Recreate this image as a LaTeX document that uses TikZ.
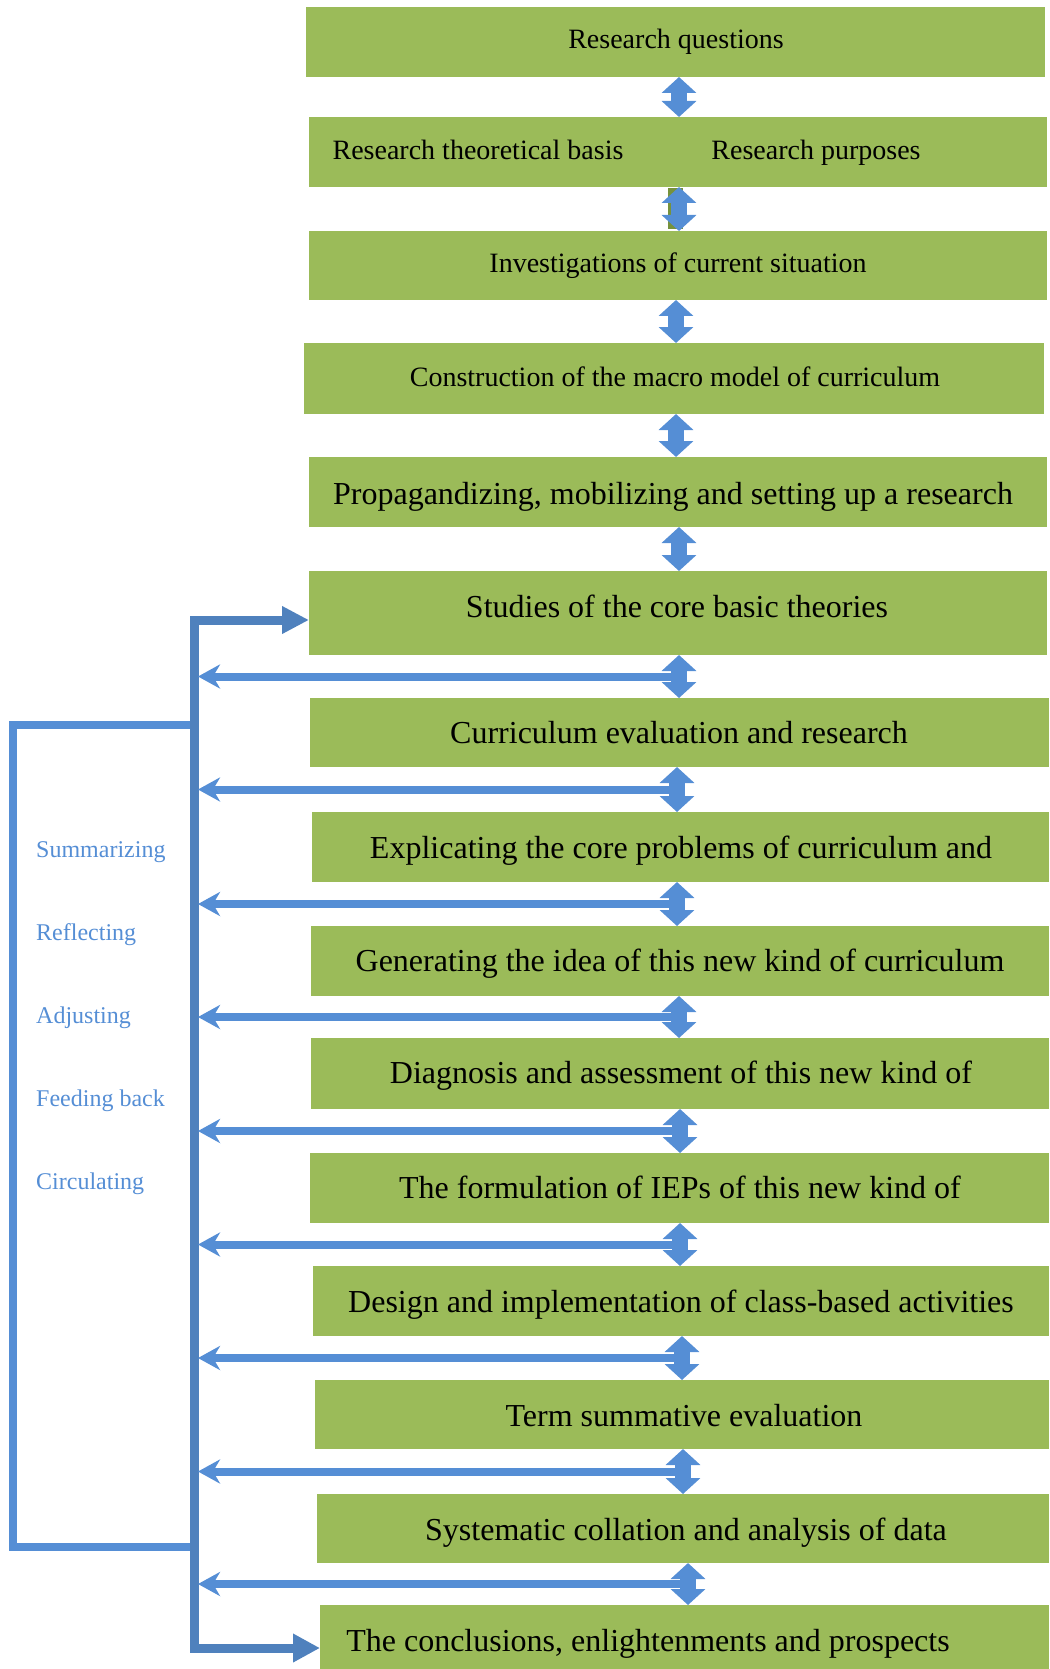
\documentclass[tikz,border=0pt]{standalone}
\usepackage{fontspec}
\setmainfont{Liberation Serif}
\usetikzlibrary{arrows.meta}
\definecolor{boxgreen}{HTML}{9BBB59}
\definecolor{darkgreen}{HTML}{76923C}
\definecolor{arrowblue}{HTML}{558ED5}
\definecolor{lineblue}{HTML}{4F81BD}
\tikzset{
  box/.style={fill=boxgreen, draw=none, inner sep=0pt, outer sep=0pt, anchor=north west},
  smalltxt/.style={inner sep=0pt, yshift=-7.5pt, font=\fontsize{28}{32}\selectfont, text height=0.68em, text depth=0.22em},
  bigtxt/.style={inner sep=0pt, yshift=-9pt, font=\fontsize{32}{36}\selectfont, text height=0.68em, text depth=0.22em},
  sidetxt/.style={inner sep=0pt, yshift=-6.5pt, anchor=west, text=arrowblue, font=\fontsize{24}{28}\selectfont, text height=0.68em, text depth=0.22em},
  dblarrow/.style={draw=arrowblue, line width=16pt, {Triangle[length=16pt,width=34pt]}-{Triangle[length=16pt,width=34pt]}},
  feedback/.style={draw=arrowblue, line width=8pt, -{Stealth[length=22pt,width=24pt,inset=7pt]}},
  mainline/.style={draw=lineblue, line width=9pt, line join=miter},
  bracketline/.style={draw=arrowblue, line width=8pt, line join=miter}
}
\begin{document}
\begin{tikzpicture}[x=1pt,y=-1pt]
\useasboundingbox (0,0) rectangle (1049,1669);
% boxes
\node[box, minimum width=739pt, minimum height=70pt] (b1) at (306,7) {};
\node[box, minimum width=738pt, minimum height=70pt] (b2) at (309,117) {};
\fill[darkgreen] (668,188) rectangle (683,229);
\node[box, minimum width=738pt, minimum height=69pt] (b3) at (309,231) {};
\node[box, minimum width=740pt, minimum height=71pt] (b4) at (304,343) {};
\node[box, minimum width=738pt, minimum height=70pt] (b5) at (309,457) {};
\node[box, minimum width=738pt, minimum height=84pt] (b6) at (309,571) {};
\node[box, minimum width=739pt, minimum height=69pt] (b7) at (310,698) {};
\node[box, minimum width=737pt, minimum height=70pt] (b8) at (312,812) {};
\node[box, minimum width=738pt, minimum height=70pt] (b9) at (311,926) {};
\node[box, minimum width=738pt, minimum height=71pt] (b10) at (311,1038) {};
\node[box, minimum width=739pt, minimum height=70pt] (b11) at (310,1153) {};
\node[box, minimum width=736pt, minimum height=70pt] (b12) at (313,1266) {};
\node[box, minimum width=734pt, minimum height=69pt] (b13) at (315,1380) {};
\node[box, minimum width=732pt, minimum height=69pt] (b14) at (317,1494) {};
\node[box, minimum width=729pt, minimum height=64pt] (b15) at (320,1605) {};
% texts
\node[smalltxt] (t1) at (676,39) {Research questions};
\node[smalltxt] (t2a) at (478,150) {Research theoretical basis};
\node[smalltxt] (t2b) at (816,150) {Research purposes};
\node[smalltxt] (t3) at (678,263) {Investigations of current situation};
\node[smalltxt] (t4) at (675,377) {Construction of the macro model of curriculum};
\node[bigtxt] (t5) at (673,493) {Propagandizing, mobilizing and setting up a research};
\node[bigtxt] (t6) at (677,606) {Studies of the core basic theories};
\node[bigtxt] (t7) at (679,732) {Curriculum evaluation and research};
\node[bigtxt] (t8) at (681,847) {Explicating the core problems of curriculum and};
\node[bigtxt] (t9) at (680,960) {Generating the idea of this new kind of curriculum};
\node[bigtxt] (t10) at (681,1072) {Diagnosis and assessment of this new kind of};
\node[bigtxt] (t11) at (680,1187) {The formulation of IEPs of this new kind of};
\node[bigtxt] (t12) at (681,1301) {Design and implementation of class-based activities};
\node[bigtxt] (t13) at (684,1415) {Term summative evaluation};
\node[bigtxt] (t14) at (686,1529) {Systematic collation and analysis of data};
\node[bigtxt] (t15) at (648,1640) {The conclusions, enlightenments and prospects};
% side labels
\node[sidetxt] (s1) at (36,849) {Summarizing};
\node[sidetxt] (s2) at (36,932) {Reflecting};
\node[sidetxt] (s3) at (36,1015) {Adjusting};
\node[sidetxt] (s4) at (36,1098) {Feeding back};
\node[sidetxt] (s5) at (36,1181) {Circulating};
% left bracket and main line
\coordinate (vtop) at (194,620);
\coordinate (vbot) at (194,1648);
\coordinate (vline) at (198,0);
\coordinate (brtop) at (194,725);
\coordinate (brbot) at (194,1547);
\draw[bracketline] (brtop) -- (13,725) -- (13,1547) -- (brbot);
\draw[mainline, -{Triangle[length=27pt,width=26pt]}] (vbot) -- (vtop) -- (vtop -| b6.west);
\draw[mainline, -{Triangle[length=27pt,width=27pt]}] (vtop) -- (vbot) -- (vbot -| b15.west);
% vertical double arrows (with midpoints)
\path (b1.south -| 679,0) -- coordinate[midway] (m1) (b2.north -| 679,0);
\path (b2.south -| 679,0) -- coordinate[midway] (m2) (b3.north -| 679,0);
\path (b3.south -| 676,0) -- coordinate[midway] (m3) (b4.north -| 676,0);
\path (b4.south -| 676,0) -- coordinate[midway] (m4) (b5.north -| 676,0);
\path (b5.south -| 679,0) -- coordinate[midway] (m5) (b6.north -| 679,0);
\path (b6.south -| 679,0) -- coordinate[midway] (m6) (b7.north -| 679,0);
\path (b7.south -| 677,0) -- coordinate[midway] (m7) (b8.north -| 677,0);
\path (b8.south -| 677,0) -- coordinate[midway] (m8) (b9.north -| 677,0);
\path (b9.south -| 679,0) -- coordinate[midway] (m9) (b10.north -| 679,0);
\path (b10.south -| 680,0) -- coordinate[midway] (m10) (b11.north -| 680,0);
\path (b11.south -| 680,0) -- coordinate[midway] (m11) (b12.north -| 680,0);
\path (b12.south -| 682,0) -- coordinate[midway] (m12) (b13.north -| 682,0);
\path (b13.south -| 683,0) -- coordinate[midway] (m13) (b14.north -| 683,0);
\path (b14.south -| 688,0) -- coordinate[midway] (m14) (b15.north -| 688,0);
% feedback arrows
\foreach \m in {m6,m7,m8,m9,m10,m11,m12,m13,m14}{
  \draw[feedback] (\m) -- (vline |- \m);
}
% double arrows
\draw[dblarrow] (b1.south -| 679,0) -- (b2.north -| 679,0);
\draw[dblarrow] (b2.south -| 679,0) -- (b3.north -| 679,0);
\draw[dblarrow] (b3.south -| 676,0) -- (b4.north -| 676,0);
\draw[dblarrow] (b4.south -| 676,0) -- (b5.north -| 676,0);
\draw[dblarrow] (b5.south -| 679,0) -- (b6.north -| 679,0);
\draw[dblarrow] (b6.south -| 679,0) -- (b7.north -| 679,0);
\draw[dblarrow] (b7.south -| 677,0) -- (b8.north -| 677,0);
\draw[dblarrow] (b8.south -| 677,0) -- (b9.north -| 677,0);
\draw[dblarrow] (b9.south -| 679,0) -- (b10.north -| 679,0);
\draw[dblarrow] (b10.south -| 680,0) -- (b11.north -| 680,0);
\draw[dblarrow] (b11.south -| 680,0) -- (b12.north -| 680,0);
\draw[dblarrow] (b12.south -| 682,0) -- (b13.north -| 682,0);
\draw[dblarrow] (b13.south -| 683,0) -- (b14.north -| 683,0);
\draw[dblarrow] (b14.south -| 688,0) -- (b15.north -| 688,0);
\end{tikzpicture}
\end{document}
